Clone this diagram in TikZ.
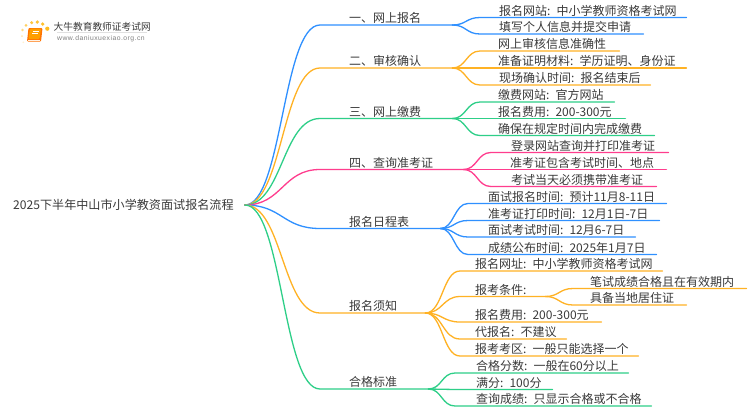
\documentclass[tikz,border=0pt]{standalone}
\usepackage{fontspec}
\setmainfont[WordSpace=0.6]{Noto Sans CJK SC}
\newfontfamily\latinfont[LetterSpace=7]{Liberation Sans}
\definecolor{cblue}{HTML}{2F90FF}
\definecolor{corange}{HTML}{FFB224}
\definecolor{cgreen}{HTML}{2ECF88}
\definecolor{cpink}{HTML}{FF3D8E}
\definecolor{ink}{HTML}{3A3A3A}
\tikzset{
  rootnode/.style={anchor=west,inner xsep=11pt,inner ysep=0pt,text=ink,font=\fontsize{12.1pt}{14pt}\selectfont},
  labelnode/.style={anchor=south west,inner xsep=0pt,inner ysep=0pt,text height=9pt,text depth=2pt,align=left,text=ink,font=\fontsize{12pt}{14pt}\selectfont},
  conn/.style={line width=1.3pt,line cap=round},
}
% \lab{name}{colour}{parent}{x start}{y}{x end}{text offset}{text}
\newcommand{\lab}[8]{%
  \pgfmathsetmacro{\labw}{#6-#4}%
  \node[labelnode,text width=\labw pt] (#1) at (#4,#5) {\hspace*{#7pt}#8};
  \path (#3) ++(0,0) coordinate (tmpa);
  \path (#1.south west) coordinate (tmpb);
  \draw[conn,#2] (#3) .. controls ($(tmpa)!0.5!(tmpb |- tmpa)$) and ($(tmpb)!0.5!(tmpa |- tmpb)$) .. (#1.south west) -- (#1.south east);
}
\usetikzlibrary{calc}
\begin{document}
\begin{tikzpicture}[x=1pt,y=-1pt]
\useasboundingbox (0,0) rectangle (750,410);
\fill[white] (0,0) rectangle (750,410);

% logo
\foreach \px/\py/\r/\o in {22.5/30/1.3/.55, 26/25.3/1.5/.7, 31.7/22.7/1.7/.85, 37.3/22/1.8/.9, 42.7/24/1.8/.95, 47.3/28.7/2.1/1 , 22/36/1/.35, 23.3/42.3/.9/.2}
  \fill[corange!85!yellow,opacity=\o] (\px,\py) circle (\r);
\fill[orange!90!red,rounded corners=1pt] (28.5,28) -- (42.5,28) -- (41,41.5) -- (27,41.5) -- cycle;
\fill[orange!75!yellow,rounded corners=1pt] (30,28.7) -- (41,28.7) -- (39.5,39) -- (28.5,39) -- cycle;
\draw[white,line width=.5pt] (32.5,31) -- (38.5,31) (32,33) -- (38,33);
\draw[white!90!orange,line width=.6pt] (28,40) -- (39.5,40);
\node[anchor=west,inner sep=0pt,text=ink,font=\fontsize{9.7pt}{11pt}\selectfont] (logotitle) at (53.5,27) {大牛教育教师证考试网};
\draw[black!12,line width=.5pt] (57,32.7) -- (147,32.7);
\node[anchor=west,inner sep=0pt,text=black!50,font=\fontsize{6.8pt}{8pt}\latinfont] (logourl) at (57,39) {www.daniuxuexiao.org.cn};

% root
\node[rootnode] (root) at (2,205) {2025下半年中山市小学教资面试报名流程};

% branches
\lab{b1}{cblue}{root.east}{320}{25}{452}{29}{一、网上报名}
\lab{b2}{corange}{root.east}{320}{68}{452}{29}{二、审核确认}
\lab{b3}{cgreen}{root.east}{320}{118.5}{452}{29}{三、网上缴费}
\lab{b4}{cpink}{root.east}{320}{169.5}{463}{29}{四、查询准考证}
\lab{b5}{cblue}{root.east}{320}{228.5}{440}{29}{报名日程表}
\lab{b6}{corange}{root.east}{320}{313}{425}{29}{报名须知}
\lab{b7}{cgreen}{root.east}{320}{389}{428}{29}{合格标准}

% leaves
\lab{l11}{cblue}{b1.south east}{480}{17.5}{686}{19}{报名网站: 中小学教师资格考试网}
\lab{l12}{cblue}{b1.south east}{480}{34}{643}{19}{填写个人信息并提交申请}

\lab{l21}{corange}{b2.south east}{480}{51}{619}{18}{网上审核信息准确性}
\lab{l22}{corange}{b2.south east}{480}{68}{686}{18}{准备证明材料: 学历证明、身份证}
\lab{l23}{corange}{b2.south east}{480}{85}{650}{19}{现场确认时间: 报名结束后}

\lab{l31}{cgreen}{b3.south east}{480}{102}{614}{18}{缴费网站: 官方网站}
\lab{l32}{cgreen}{b3.south east}{480}{118.5}{625}{18}{报名费用: 200-300元}
\lab{l33}{cgreen}{b3.south east}{480}{135.5}{654}{18}{确保在规定时间内完成缴费}

\lab{l41}{cpink}{b4.south east}{491}{152.5}{668}{20}{登录网站查询并打印准考证}
\lab{l42}{cpink}{b4.south east}{491}{169.5}{666}{19}{准考证包含考试时间、地点}
\lab{l43}{cpink}{b4.south east}{491}{186.5}{656}{20}{考试当天必须携带准考证}

\lab{l51}{cblue}{b5.south east}{468}{203.5}{666}{20}{面试报名时间: 预计11月8-11日}
\lab{l52}{cblue}{b5.south east}{468}{220.5}{659}{20}{准考证打印时间: 12月1日-7日}
\lab{l53}{cblue}{b5.south east}{468}{237}{635}{20}{面试考试时间: 12月6-7日}
\lab{l54}{cblue}{b5.south east}{468}{254.5}{656}{20}{成绩公布时间: 2025年1月7日}

\lab{l61}{corange}{b6.south east}{460}{271}{662}{15}{报名网址: 中小学教师资格考试网}
\lab{l62}{corange}{b6.south east}{460}{296.5}{545}{15}{报考条件:}
\lab{l63}{corange}{b6.south east}{460}{322}{601}{15}{报名费用: 200-300元}
\lab{l64}{corange}{b6.south east}{460}{339}{566}{15}{代报名: 不建议}
\lab{l65}{corange}{b6.south east}{460}{356}{638}{15}{报考考区: 一般只能选择一个}

\lab{s1}{corange}{l62.south east}{573}{288.5}{746}{17}{笔试成绩合格且在有效期内}
\lab{s2}{corange}{l62.south east}{573}{305}{686}{17}{具备当地居住证}

\lab{l71}{cgreen}{b7.south east}{455}{373}{628}{21}{合格分数: 一般在60分以上}
\lab{l72}{cgreen}{b7.south east}{455}{389.5}{552}{21}{满分: 100分}
\lab{l73}{cgreen}{b7.south east}{455}{406}{651}{21}{查询成绩: 只显示合格或不合格}
\end{tikzpicture}
\end{document}
